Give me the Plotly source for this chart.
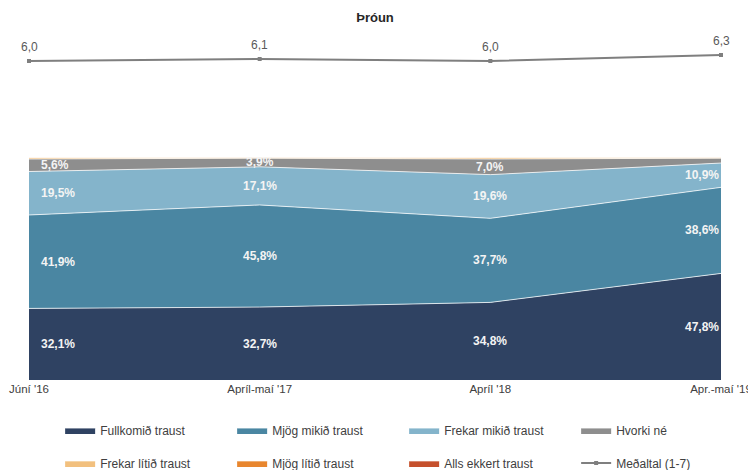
import plotly.graph_objects as go

categories = ["Júní '16", "Apríl-maí '17", "Apríl '18", "Apr.-maí '19"]

fullkomid = [32.1, 32.7, 34.8, 47.8]
mjog_mikid = [41.9, 45.8, 37.7, 38.6]
frekar_mikid = [19.5, 17.1, 19.6, 10.9]
hvorki = [5.6, 3.9, 7.0, 2.2]
frekar_litid = [0.7, 0.4, 0.7, 0.4]
mjog_litid = [0.2, 0.1, 0.1, 0.1]
alls_ekkert = [0.0, 0.0, 0.1, 0.0]
medaltal = [6.0, 6.1, 6.0, 6.3]

series = [
    ("Fullkomið traust", fullkomid, "#2f4262"),
    ("Mjög mikið traust", mjog_mikid, "#4a86a2"),
    ("Frekar mikið traust", frekar_mikid, "#84b4cb"),
    ("Hvorki né", hvorki, "#8e8e8e"),
    ("Frekar lítið traust", frekar_litid, "#f2c07e"),
    ("Mjög lítið traust", mjog_litid, "#e8862e"),
    ("Alls ekkert traust", alls_ekkert, "#c5502c"),
]

FONT = "Liberation Sans Narrow, Arial Narrow, Liberation Sans, Arial, sans-serif"

def fmt(v):
    return f"{v:.1f}".replace(".", ",")

fig = go.Figure()

for i, (name, vals, col) in enumerate(series):
    fig.add_trace(go.Scatter(
        x=categories, y=vals, name=name, mode="lines",
        stackgroup="one", fillcolor=col,
        line=dict(width=1, color="rgba(255,255,255,0.75)"),
        legend="legend" if i < 4 else "legend2",
        hoverinfo="skip",
    ))

# labels at band midpoints
cum = [0.0] * len(categories)
anchors = [("left", 10), ("center", 0), ("center", 0), ("right", 0)]
for name, vals, col in series:
    for j, v in enumerate(vals):
        if v >= 3:
            xa, xs = anchors[j]
            fig.add_annotation(
                x=categories[j], y=cum[j] + v / 2, xref="x", yref="y",
                text=fmt(v) + "%", showarrow=False, xanchor=xa, xshift=xs,
                font=dict(color="#f4f4f4", size=12, family="Liberation Sans, Arial", weight="bold"),
            )
        cum[j] += v

fig.add_trace(go.Scatter(
    x=categories, y=medaltal, name="Meðaltal (1-7)", yaxis="y2",
    mode="lines+markers",
    line=dict(color="#7f7f7f", width=2),
    marker=dict(symbol="square", size=4, color="#7f7f7f"),
    cliponaxis=False, legend="legend2", hoverinfo="skip",
))

for c, v in zip(categories, medaltal):
    fig.add_annotation(x=c, y=v, xref="x", yref="y2", text=fmt(v),
                       showarrow=False, yshift=14,
                       font=dict(color="#595959", size=12, family=FONT))

fig.update_layout(
    width=748, height=462,
    margin=dict(l=21, r=35, t=22, b=90, autoexpand=False),
    paper_bgcolor="white", plot_bgcolor="white",
    font=dict(family=FONT, size=12, color="#404040"),
    title=dict(text="<b>Þróun</b>", x=0.5, xanchor="center", xref="paper",
               y=0.98, yref="container", yanchor="middle",
               font=dict(size=13, color="#262626", family="Liberation Sans, Arial")),
    xaxis=dict(range=[0, 3], showgrid=False, zeroline=False, showline=False,
               automargin=False, ticks="", tickfont=dict(size=11.5, color="#404040")),
    yaxis=dict(domain=[0, 0.6371], range=[0, 100], visible=False),
    yaxis2=dict(domain=[0.8857, 0.9571], range=[5.55, 6.8], visible=False),
    showlegend=True,
    legend=dict(orientation="h", x=0.045, xanchor="left", y=-0.143, yanchor="middle",
                entrywidth=127, entrywidthmode="pixels",
                font=dict(size=12, color="#404040"), traceorder="normal"),
    legend2=dict(orientation="h", x=0.045, xanchor="left", y=-0.237, yanchor="middle",
                 entrywidth=127, entrywidthmode="pixels",
                 font=dict(size=12, color="#404040"), traceorder="normal"),
)

fig.write_html("out.html")
